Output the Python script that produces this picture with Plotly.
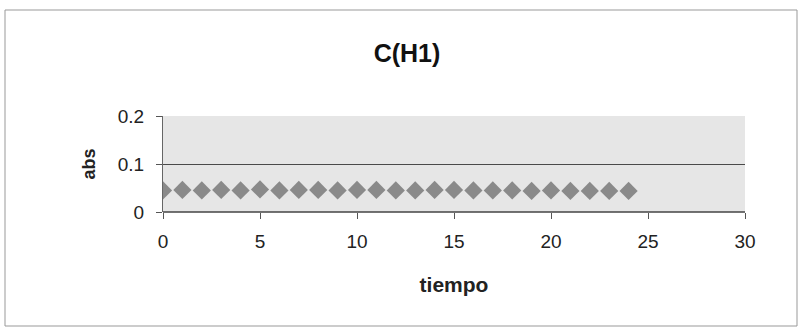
import plotly.graph_objects as go

tiempo = list(range(0, 25))
abs_vals = [0.045, 0.046, 0.045, 0.046, 0.045, 0.047, 0.045, 0.046, 0.046, 0.045,
            0.046, 0.046, 0.045, 0.045, 0.046, 0.046, 0.045, 0.045, 0.045, 0.044,
            0.045, 0.044, 0.044, 0.044, 0.044]

L, R, T, B = 163, 55, 116, 124
W, H = 800, 336
pw, ph = W - L - R, H - T - B

def px(x):
    return (x - L) / pw

def py(y):
    return (H - B - y) / ph

fig = go.Figure()
fig.add_trace(go.Scatter(
    x=tiempo, y=abs_vals, mode="markers",
    marker=dict(symbol="diamond", size=14, color="#8a8a8a", line=dict(width=0)),
    showlegend=False,
))

fig.update_layout(
    width=W, height=H,
    margin=dict(l=L, r=R, t=T, b=B),
    paper_bgcolor="white",
    plot_bgcolor="#e6e6e6",
    font=dict(family="Liberation Sans, Arial, sans-serif", color="#222", size=19),
    title=dict(text="<b>C(H1)</b>", x=px(407), xref="paper", xanchor="center",
               y=1 - 53 / H, yanchor="middle", font=dict(size=25, color="#111")),
    xaxis=dict(range=[0, 30], tickvals=[0, 5, 10, 15, 20, 25, 30],
               showgrid=False, zeroline=False, showline=False,
               ticks="outside", ticklen=6, tickcolor="#555",
               ticklabelstandoff=6,
               title=dict(text="<b>tiempo</b>", font=dict(size=21), standoff=26),
               fixedrange=True),
    yaxis=dict(range=[0, 0.2], tickvals=[0, 0.1, 0.2], ticktext=["0", "0.1", "0.2"],
               showgrid=True, gridcolor="#4a4a4a", gridwidth=1,
               zeroline=False, showline=True, linecolor="#666", linewidth=1,
               ticks="outside", ticklen=6, tickcolor="#555",
               ticklabelstandoff=8,
               title=dict(text="<b>abs</b>", font=dict(size=18), standoff=17),
               fixedrange=True),
    shapes=[
        dict(type="line", xref="paper", yref="paper", x0=0, x1=1, y0=0, y1=0,
             line=dict(color="#444", width=1.5)),
        dict(type="rect", xref="paper", yref="paper",
             x0=px(5), x1=px(797), y0=py(326), y1=py(10),
             line=dict(color="#999", width=1), layer="below"),
    ],
)

fig.write_html("out.html")
